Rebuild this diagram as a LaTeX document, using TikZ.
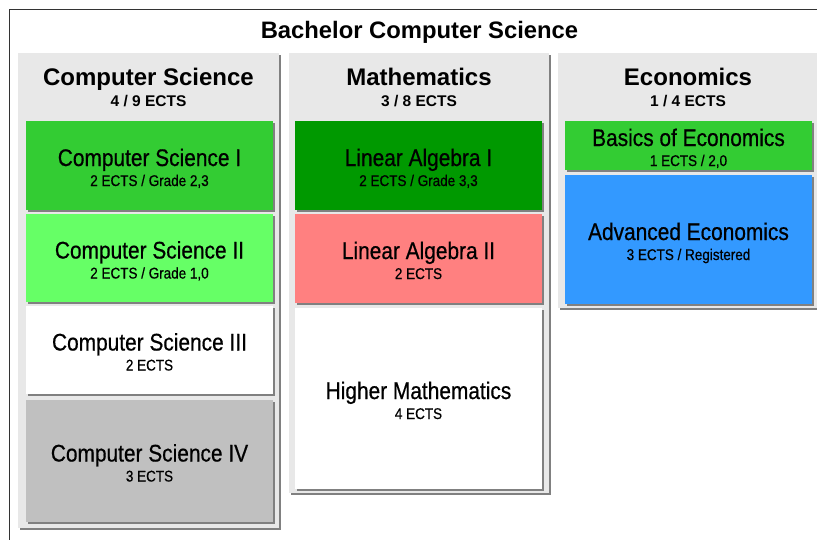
\documentclass[tikz,border=0pt]{standalone}
\usepackage{fontspec}
\setmainfont{Liberation Sans}
\newfontfamily\narrowfont[FakeStretch=0.87,FakeBold=0.6]{Liberation Sans}
\usetikzlibrary{shadows}
\definecolor{colbg}{HTML}{E8E8E8}
\definecolor{shadowgray}{HTML}{808080}
\definecolor{passgreen}{HTML}{33CC33}
\definecolor{lightgreen}{HTML}{66FF66}
\definecolor{darkgreen}{HTML}{009900}
\definecolor{failred}{HTML}{FF8080}
\definecolor{regblue}{HTML}{3399FF}
\definecolor{opengray}{HTML}{C0C0C0}
\definecolor{framecol}{HTML}{333333}
\tikzset{
  boxbase/.style={rectangle, inner sep=0pt, outer sep=0pt, draw=none, anchor=north west,
    drop shadow={shadow xshift=2pt, shadow yshift=-2pt, fill=shadowgray, opacity=1}},
  colbox/.style={boxbase, fill=colbg},
  coursebox/.style={boxbase},
  maintitle/.style={inner sep=0pt, anchor=base, font=\bfseries\fontsize{23.8}{28}\selectfont},
  colhead/.style={inner sep=0pt, anchor=base, font=\bfseries\fontsize{24}{28}\selectfont},
  colsub/.style={inner sep=0pt, anchor=base, font=\bfseries\fontsize{15.5}{18}\selectfont},
  ctitle/.style={inner sep=0pt, anchor=base, font=\narrowfont\fontsize{24}{28}\selectfont},
  csub/.style={inner sep=0pt, anchor=base, font=\narrowfont\fontsize{15.5}{18}\selectfont},
}
\newcommand{\coursenode}[8]{%
  \node[coursebox, fill=#6, minimum width=#4pt, minimum height=#5pt] (#1) at (#2,#3) {};
  \node[ctitle] (#1-t) at ([yshift=-0.5pt]#1.center) {#7};
  \node[csub] (#1-s) at ([yshift=-20.5pt]#1.center) {#8};
}
\begin{document}
\begin{tikzpicture}[x=1pt,y=-1pt]
\useasboundingbox (0,0) rectangle (817,539);
\fill[white] (0,0) rectangle (817,539);
% outer frame
\node[draw=framecol, line width=1.2pt, inner sep=0pt, anchor=north west,
      minimum width=822pt, minimum height=560pt] (frame) at (9,9) {};
\node[maintitle] (title) at (419.5,38) {Bachelor Computer Science};
% columns
\node[colbox, minimum width=261pt, minimum height=475pt] (col1) at (18,53) {};
\node[colbox, minimum width=260pt, minimum height=440pt] (col2) at (289,53) {};
\node[colbox, minimum width=260pt, minimum height=255pt] (col3) at (558,53) {};
\node[colhead] (col1-h) at (148.5,85) {Computer Science};
\node[colsub] (col1-s) at (148.5,106) {4 / 9 ECTS};
\node[colhead] (col2-h) at (419,85) {Mathematics};
\node[colsub] (col2-s) at (419,106) {3 / 8 ECTS};
\node[colhead] (col3-h) at (688,85) {Economics};
\node[colsub] (col3-s) at (688,106) {1 / 4 ECTS};
% courses
\coursenode{cs1}{26}{121}{247}{89}{passgreen}{Computer Science I}{2 ECTS / Grade 2,3}
\coursenode{cs2}{26}{214}{247}{88}{lightgreen}{Computer Science II}{2 ECTS / Grade 1,0}
\coursenode{cs3}{26}{306}{247}{88}{white}{Computer Science III}{2 ECTS}
\coursenode{cs4}{26}{400}{247}{122}{opengray}{Computer Science IV}{3 ECTS}
\coursenode{la1}{295}{121}{247}{89}{darkgreen}{Linear Algebra I}{2 ECTS / Grade 3,3}
\coursenode{la2}{295}{214}{247}{89}{failred}{Linear Algebra II}{2 ECTS}
\coursenode{hm}{295}{308}{247}{181}{white}{Higher Mathematics}{4 ECTS}
\coursenode{be}{565}{121}{247}{49}{passgreen}{Basics of Economics}{1 ECTS / 2,0}
\coursenode{ae}{565}{175}{247}{129}{regblue}{Advanced Economics}{3 ECTS / Registered}
\end{tikzpicture}
\end{document}
